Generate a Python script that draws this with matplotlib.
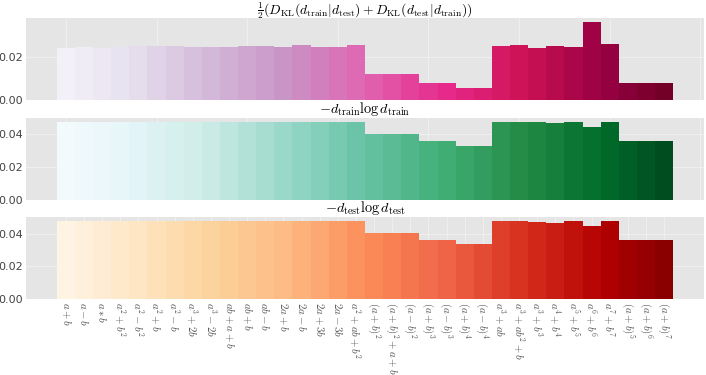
import numpy as np
import matplotlib
matplotlib.use("Agg")
import matplotlib.pyplot as plt

plt.rcParams['mathtext.fontset'] = 'cm'
plt.rcParams['font.family'] = ['DejaVu Sans']

labels = [r"$a+b$", r"$a-b$", r"$a*b$", r"$a^2+b^2$", r"$a^2-b^2$", r"$a^2+b$",
          r"$a^2-b$", r"$a^3+2b$", r"$a^3-2b$", r"$ab+a+b$", r"$ab+b$", r"$ab-b$",
          r"$2a+b$", r"$2a-b$", r"$2a+3b$", r"$2a-3b$", r"$a^2+ab+b^2$",
          r"$(a+b)^2$", r"$(a+b)^2+a+b$", r"$(a-b)^2$", r"$(a+b)^3$", r"$(a-b)^3$",
          r"$(a+b)^4$", r"$(a-b)^4$", r"$a^3+ab$", r"$a^3+ab^2+b$", r"$a^3+b^3$",
          r"$a^4+b^4$", r"$a^5+b^5$", r"$a^6+b^6$", r"$a^7+b^7$",
          r"$(a+b)^5$", r"$(a+b)^6$", r"$(a+b)^7$"]

sym_kl = [0.0242, 0.0246, 0.0242, 0.0246, 0.0248, 0.0249, 0.0249, 0.0245, 0.0243,
          0.0246, 0.0248, 0.0249, 0.0245, 0.0254, 0.0246, 0.0246, 0.0252,
          0.0120, 0.0119, 0.0119, 0.00785, 0.00785, 0.0057, 0.0057,
          0.0248, 0.0252, 0.0242, 0.0248, 0.0245, 0.0360, 0.0259,
          0.00785, 0.00785, 0.00785]

ent_train = [0.0473, 0.0472, 0.0471, 0.0471, 0.0471, 0.0471, 0.0471, 0.0471, 0.0471,
             0.0471, 0.0471, 0.0471, 0.0471, 0.0471, 0.0471, 0.0471, 0.0471,
             0.0400, 0.0400, 0.0400, 0.0360, 0.0360, 0.0330, 0.0330,
             0.0472, 0.0472, 0.0470, 0.0464, 0.0473, 0.0445, 0.0473,
             0.0360, 0.0360, 0.0360]

ent_test = [0.0475, 0.0475, 0.0475, 0.0475, 0.0475, 0.0475, 0.0475, 0.0475, 0.0475,
            0.0475, 0.0475, 0.0475, 0.0475, 0.0475, 0.0475, 0.0475, 0.0475,
            0.0404, 0.0404, 0.0404, 0.0362, 0.0362, 0.0333, 0.0333,
            0.0475, 0.0475, 0.0473, 0.0467, 0.0477, 0.0448, 0.0477,
            0.0362, 0.0362, 0.0362]

titles = [r"$\frac{1}{2}(D_{\mathrm{KL}}(d_{\mathrm{train}}|d_{\mathrm{test}}) + D_{\mathrm{KL}}(d_{\mathrm{test}}|d_{\mathrm{train}}))$",
          r"$-d_{\mathrm{train}}\log d_{\mathrm{train}}$",
          r"$-d_{\mathrm{test}}\log d_{\mathrm{test}}$"]
cmaps = ["PuRd", "BuGn", "OrRd"]
series = [sym_kl, ent_train, ent_test]

fig = plt.figure(figsize=(7.06, 3.75), dpi=100)
left, right = 26 / 706, 704 / 706
boxes = [(18, 100), (118, 200), (217, 299)]
n = len(labels)
x = np.arange(n)
for k, (vals, cm, title, (t, b)) in enumerate(zip(series, cmaps, titles, boxes)):
    ax = fig.add_axes([left, 1 - b / 375, right - left, (b - t) / 375])
    ax.set_facecolor('#e5e5e5')
    cmap = plt.get_cmap(cm)
    colors = cmap(np.linspace(0, 1, n + 2)[1:-1])
    ax.bar(x, vals, width=1.0, color=colors, linewidth=0, zorder=2)
    for s in ax.spines.values():
        s.set_visible(False)
    ax.grid(True, color='#efefef', linewidth=0.8, zorder=0)
    ax.set_axisbelow(True)
    ax.set_yticks([0.0, 0.02, 0.04] if k > 0 else [0.0, 0.02])
    ax.yaxis.set_major_formatter(matplotlib.ticker.FormatStrFormatter('%.2f'))
    ax.tick_params(axis='both', length=0, labelsize=8, colors='#444444', pad=2)
    if k == 0:
        fig.text((left + right) / 2, 0.999, title, fontsize=9.8,
                 ha='center', va='top')
    else:
        ax.set_title(title, fontsize=10.3, pad=1.5)
    if k < 2:
        ax.tick_params(labelbottom=False)
    else:
        ax.set_xticks(x)
        ax.set_xticklabels(labels, rotation=270, fontsize=7.8, color='#555555')
fig.savefig("out.png", dpi=100)
